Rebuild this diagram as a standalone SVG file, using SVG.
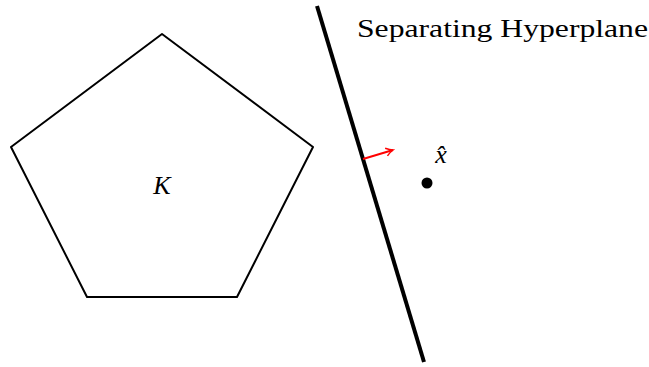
<svg xmlns="http://www.w3.org/2000/svg" width="649" height="367" viewBox="0 0 649 367">
<defs>
<style>
.lbl{font-family:"Liberation Serif","DejaVu Serif",serif;fill:#000}
.it{font-style:italic}
</style>
<marker id="arr" markerWidth="10" markerHeight="10" refX="8" refY="5" orient="auto" markerUnits="userSpaceOnUse">
<path d="M1,1 Q5,4 8,5 Q5,6 1,9" fill="none" stroke="#ff0000" stroke-width="1.5"/>
</marker>
</defs>
<rect width="649" height="367" fill="#fff"/>
<g id="K">
<polygon points="162,34 313,147 237,297 87,297 11,147" fill="none" stroke="#000" stroke-width="2" stroke-linejoin="round"/>
<text class="lbl it" x="162" y="194" font-size="26" text-anchor="middle">K</text>
</g>
<g id="hyperplane">
<line x1="317" y1="6" x2="424" y2="362" stroke="#000" stroke-width="4"/>
<text class="lbl" x="357" y="37" font-size="25" textLength="291" lengthAdjust="spacingAndGlyphs">Separating Hyperplane</text>
</g>
<g id="xhat">
<circle cx="427" cy="183" r="5.5" fill="#000"/>
<text class="lbl it" x="441" y="163" font-size="26" text-anchor="middle">x̂</text>
</g>
<g id="connectors">
<line x1="363" y1="159" x2="393" y2="150" stroke="#ff0000" stroke-width="2" marker-end="url(#arr)"/>
</g>
</svg>
